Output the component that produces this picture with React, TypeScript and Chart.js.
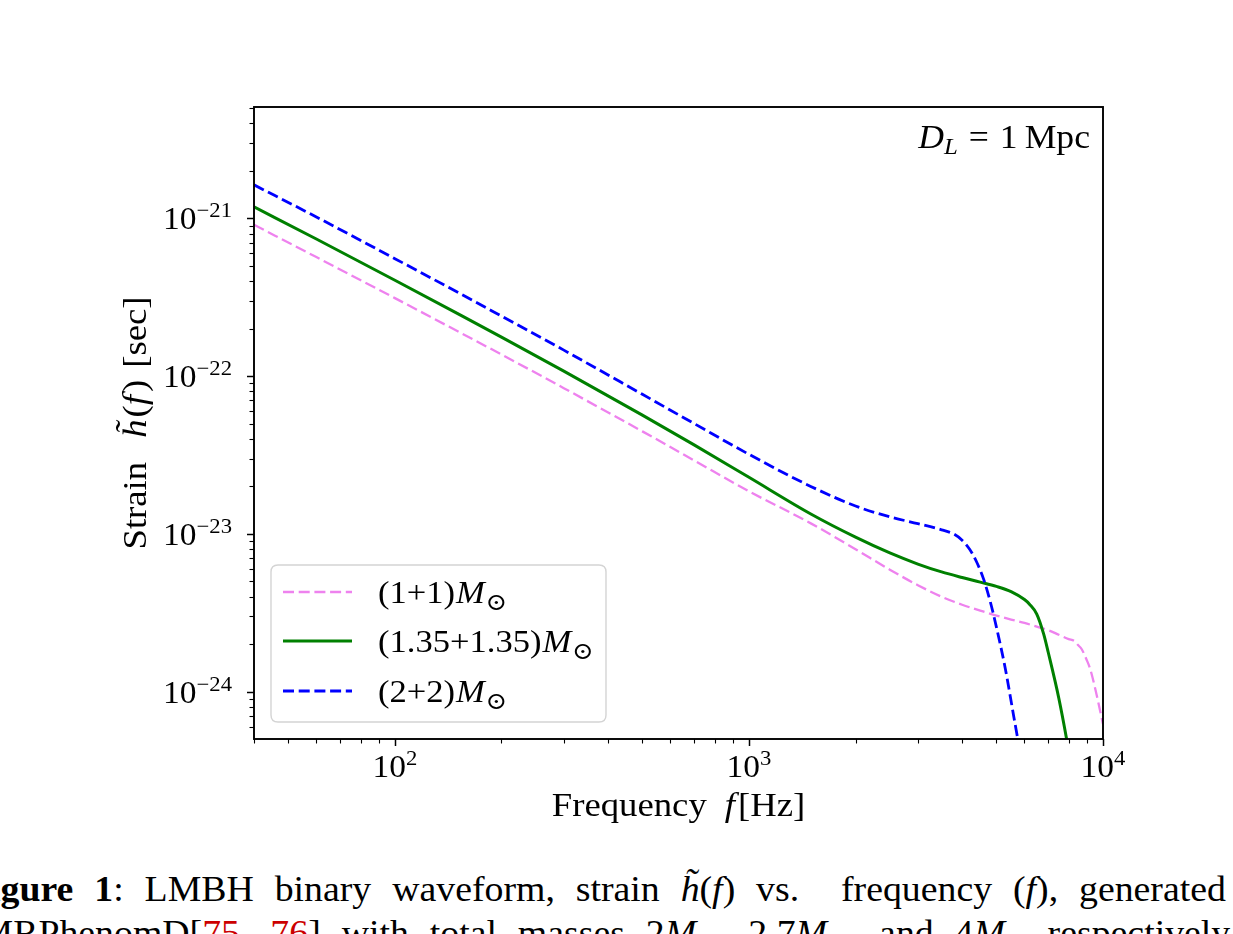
import { useEffect, useRef } from "react";
import { Chart, registerables } from "chart.js";

Chart.register(...registerables);

// ---------- data ----------
const freqLight = [40, 60, 100, 150, 200, 300, 500, 700, 1000, 1500, 2000, 2500, 3000, 3500, 4000, 4500, 5000, 5500, 6000, 6500, 7000, 7500, 8000, 8300, 8500, 8700, 9000, 9200, 9500, 10000];
const strainLight = [9.1e-22, 5.68e-22, 3.12e-22, 1.93e-22, 1.37e-22, 8.38e-23, 4.46e-23, 2.92e-23, 1.86e-23, 1.16e-23, 7.98e-24, 5.92e-24, 4.72e-24, 3.99e-24, 3.55e-24, 3.26e-24, 3.03e-24, 2.86e-24, 2.72e-24, 2.58e-24, 2.45e-24, 2.29e-24, 2.15e-24, 2.09e-24, 1.97e-24, 1.86e-24, 1.58e-24, 1.39e-24, 1.05e-24, 6.22e-25];

const freqMid = [40, 60, 100, 150, 200, 300, 500, 700, 1000, 1500, 2000, 2500, 3000, 3500, 4000, 4500, 5000, 5500, 6000, 6200, 6500, 6800, 7000, 7500, 8000, 8500];
const strainMid = [1.182e-21, 7.4e-22, 4.05e-22, 2.496e-22, 1.766e-22, 1.074e-22, 5.65e-23, 3.66e-23, 2.28e-23, 1.33e-23, 9.52e-24, 7.56e-24, 6.43e-24, 5.73e-24, 5.28e-24, 4.94e-24, 4.64e-24, 4.3e-24, 3.83e-24, 3.58e-24, 3.1e-24, 2.31e-24, 1.78e-24, 9.1e-25, 4.2e-25, 1.8e-25];

const freqHeavy = [40, 60, 100, 150, 200, 300, 500, 700, 1000, 1500, 2000, 2500, 3000, 3500, 3800, 4000, 4200, 4400, 4600, 4800, 5000, 5300, 5600, 6000, 6500];
const strainHeavy = [1.63e-21, 1.02e-21, 5.55e-22, 3.41e-22, 2.4e-22, 1.46e-22, 7.66e-23, 5.0e-23, 3.19e-23, 1.99e-23, 1.5e-23, 1.28e-23, 1.16e-23, 1.06e-23, 9.93e-24, 9.1e-24, 7.98e-24, 6.6e-24, 5.16e-24, 3.74e-24, 2.56e-24, 1.39e-24, 6.9e-25, 2.92e-25, 1.16e-25];

const seriesLabels = ["(1+1)", "(1.35+1.35)", "(2+2)"];
const seriesColors = ["#EE82EE", "#008000", "#0000FF"];

const xTickExponents = [2, 3, 4];
const yTickExponents = [-21, -22, -23, -24];
const xRange = [40, 10000];
const yRange = [5.08e-25, 5.08e-21];

// ---------- text helpers ----------
const SERIF = '"Liberation Serif", "DejaVu Serif", serif';
const STRETCH = 1.08;

type Run = { t: string; size: number; italic?: boolean; dy?: number; gap?: number; color?: string };

function runFont(r: Run) {
  return `${r.italic ? "italic " : ""}${r.size}px ${SERIF}`;
}
function runWidth(ctx: CanvasRenderingContext2D, r: Run) {
  ctx.font = runFont(r);
  return ctx.measureText(r.t).width * STRETCH + (r.gap || 0);
}
function drawRuns(ctx: CanvasRenderingContext2D, runs: Run[], x: number, y: number, align: "left" | "center" | "right") {
  const total = runs.reduce((s, r) => s + runWidth(ctx, r), 0);
  let cx = align === "left" ? x : align === "center" ? x - total / 2 : x - total;
  ctx.textAlign = "left";
  ctx.textBaseline = "alphabetic";
  for (const r of runs) {
    ctx.font = runFont(r);
    ctx.save();
    ctx.translate(cx, y + (r.dy || 0));
    ctx.scale(STRETCH, 1);
    ctx.fillStyle = r.color || "#000";
    ctx.fillText(r.t, 0, 0);
    ctx.restore();
    cx += runWidth(ctx, r);
  }
}
function supNumber(n: number) {
  return n < 0 ? "\u2212" + String(-n) : String(n);
}

const overlayPlugin = {
  id: "mplOverlay",
  afterDraw(chart: any) {
    const ctx: CanvasRenderingContext2D = chart.ctx;
    const a = chart.chartArea;
    const xs = chart.scales.x;
    const ys = chart.scales.y;
    ctx.save();

    // ticks
    ctx.strokeStyle = "#000";
    for (let e = 1; e <= 4; e++) {
      for (let m = 1; m <= 9; m++) {
        const v = m * Math.pow(10, e);
        if (v < xRange[0] - 1e-9 || v > xRange[1] * 1.0000001) continue;
        const px = Math.round(xs.getPixelForValue(v)) + 0.5;
        const major = m === 1;
        ctx.lineWidth = major ? 1.5 : 1.1;
        ctx.beginPath();
        ctx.moveTo(px, a.bottom);
        ctx.lineTo(px, a.bottom + (major ? 7 : 4.5));
        ctx.stroke();
      }
    }
    for (let e = -25; e <= -21; e++) {
      for (let m = 1; m <= 9; m++) {
        const v = m * Math.pow(10, e);
        if (v < yRange[0] || v > yRange[1]) continue;
        const py = Math.round(ys.getPixelForValue(v)) + 0.5;
        const major = m === 1;
        ctx.lineWidth = major ? 1.5 : 1.1;
        ctx.beginPath();
        ctx.moveTo(a.left, py);
        ctx.lineTo(a.left - (major ? 7 : 4.5), py);
        ctx.stroke();
      }
    }

    // spines
    ctx.lineWidth = 1.9;
    ctx.strokeRect(a.left, a.top, a.right - a.left, a.bottom - a.top);

    // tick labels
    for (const e of xTickExponents) {
      const px = xs.getPixelForValue(Math.pow(10, e));
      drawRuns(ctx, [{ t: "10", size: 31 }, { t: supNumber(e), size: 21, dy: -12 }], px, a.bottom + 38, "center");
    }
    for (const e of yTickExponents) {
      const py = ys.getPixelForValue(Math.pow(10, e));
      drawRuns(ctx, [{ t: "10", size: 31 }, { t: supNumber(e), size: 21, dy: -12 }], a.left - 22, py + 11, "right");
    }

    // axis titles
    drawRuns(
      ctx,
      [
        { t: "Frequency", size: 34, gap: 18 },
        { t: "f", size: 34, italic: true, gap: 3 },
        { t: "[Hz]", size: 34 },
      ],
      (a.left + a.right) / 2,
      a.bottom + 77,
      "center"
    );
    ctx.save();
    ctx.translate(a.left - 108, (a.top + a.bottom) / 2);
    ctx.rotate(-Math.PI / 2);
    drawRuns(
      ctx,
      [
        { t: "Strain", size: 34, gap: 24 },
        { t: "h\u0303", size: 34, italic: true, gap: 2 },
        { t: "(", size: 34 },
        { t: "f", size: 34, italic: true, gap: 3 },
        { t: ")", size: 34, gap: 12 },
        { t: "[sec]", size: 34 },
      ],
      0,
      0,
      "center"
    );
    ctx.restore();

    // annotation
    drawRuns(
      ctx,
      [
        { t: "D", size: 33, italic: true },
        { t: "L", size: 23, italic: true, dy: 6, gap: 11 },
        { t: "=", size: 33, gap: 11 },
        { t: "1", size: 33, gap: 7 },
        { t: "Mpc", size: 33 },
      ],
      a.right - 13,
      a.top + 41,
      "right"
    );

    // legend
    const lx = a.left + 17;
    const lw = 335;
    const lh = 157;
    const ly = a.bottom - 17 - lh;
    const r = 7;
    ctx.beginPath();
    ctx.moveTo(lx + r, ly);
    ctx.lineTo(lx + lw - r, ly);
    ctx.quadraticCurveTo(lx + lw, ly, lx + lw, ly + r);
    ctx.lineTo(lx + lw, ly + lh - r);
    ctx.quadraticCurveTo(lx + lw, ly + lh, lx + lw - r, ly + lh);
    ctx.lineTo(lx + r, ly + lh);
    ctx.quadraticCurveTo(lx, ly + lh, lx, ly + lh - r);
    ctx.lineTo(lx, ly + r);
    ctx.quadraticCurveTo(lx, ly, lx + r, ly);
    ctx.closePath();
    ctx.fillStyle = "rgba(255,255,255,0.8)";
    ctx.fill();
    ctx.strokeStyle = "#d4d4d4";
    ctx.lineWidth = 1.4;
    ctx.stroke();

    const rows = [27, 76, 126];
    chart.data.datasets.forEach((ds: any) => {
      const idx = ds.seriesIndex;
      const cy = ly + rows[idx];
      ctx.save();
      ctx.strokeStyle = ds.borderColor;
      ctx.lineWidth = ds.borderWidth;
      ctx.setLineDash(ds.borderDash || []);
      ctx.beginPath();
      ctx.moveTo(lx + 12, cy);
      ctx.lineTo(lx + 81, cy);
      ctx.stroke();
      ctx.restore();
      drawRuns(
        ctx,
        [
          { t: seriesLabels[idx], size: 32, gap: 1 },
          { t: "M", size: 32, italic: true, gap: 1 },
          { t: "\u2299", size: 24, dy: 7 },
        ],
        lx + 107,
        cy + 11,
        "left"
      );
    });

    ctx.restore();
  },
};

function toPoints(fs: number[], hs: number[]) {
  return fs.map((f, i) => ({ x: f, y: hs[i] }));
}

export default function App() {
  const ref = useRef<HTMLCanvasElement>(null);

  useEffect(() => {
    const canvas = ref.current;
    if (!canvas) return;
    const chart = new Chart(canvas, {
      type: "line",
      data: {
        datasets: [
          {
            label: "(2+2)",
            seriesIndex: 2,
            data: toPoints(freqHeavy, strainHeavy),
            borderColor: seriesColors[2],
            borderWidth: 2.8,
            borderDash: [11, 4.7],
            order: 0,
          } as any,
          {
            label: "(1.35+1.35)",
            seriesIndex: 1,
            data: toPoints(freqMid, strainMid),
            borderColor: seriesColors[1],
            borderWidth: 3.0,
            order: 1,
          } as any,
          {
            label: "(1+1)",
            seriesIndex: 0,
            data: toPoints(freqLight, strainLight),
            borderColor: seriesColors[0],
            borderWidth: 2.3,
            borderDash: [11, 4.7],
            order: 2,
          } as any,
        ],
      },
      options: {
        animation: false,
        responsive: false,
        devicePixelRatio: 1,
        layout: { padding: { left: 254, top: 107, right: 130, bottom: 121 } },
        plugins: { legend: { display: false }, tooltip: { enabled: false } },
        elements: {
          point: { radius: 0 },
          line: { cubicInterpolationMode: "monotone", fill: false },
        },
        scales: {
          x: { type: "logarithmic", min: xRange[0], max: xRange[1], display: false },
          y: { type: "logarithmic", min: yRange[0], max: yRange[1], display: false },
        },
      },
      plugins: [overlayPlugin],
    } as any);
    return () => chart.destroy();
  }, []);

  const red = { color: "#cc0000" };
  const sub = { fontSize: 24 };
  return (
    <div style={{ position: "absolute", left: 0, top: 0, width: 1233, height: 934, overflow: "hidden", background: "#fff" }}>
      <canvas ref={ref} width={1233} height={860} style={{ position: "absolute", left: 0, top: 0 }} />
      <div
        style={{
          position: "absolute",
          left: -33,
          top: 868,
          fontFamily: SERIF,
          fontSize: 35,
          lineHeight: "44px",
          whiteSpace: "nowrap",
          wordSpacing: "10.6px",
          transform: "scaleX(1.08)",
          transformOrigin: "0 0",
          color: "#000",
        }}
      >
        <div>
          <b>Figure 1</b>: LMBH binary waveform, strain <i>h&#771;</i>(<i>f</i>) vs.&nbsp; frequency (<i>f</i>), generated by
        </div>
        <div>
          IMRPhenomD[<span style={red}>75</span>, <span style={red}>76</span>] with total masses 2<i>M</i>
          <sub style={sub}>⊙</sub>, 2.7<i>M</i>
          <sub style={sub}>⊙</sub>, and 4<i>M</i>
          <sub style={sub}>⊙</sub> respectively, with
        </div>
      </div>
    </div>
  );
}
